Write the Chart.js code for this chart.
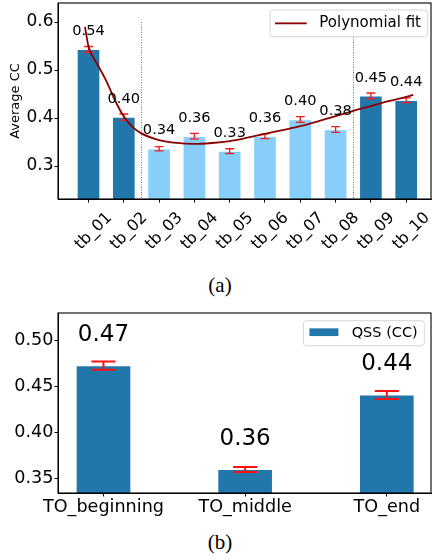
<!DOCTYPE html>
<html><head><meta charset="utf-8">
<script src="https://cdn.jsdelivr.net/npm/chart.js@4.4.1/dist/chart.umd.min.js"></script>
<style>
html,body{margin:0;padding:0;background:#fff;width:432px;height:560px;overflow:hidden;}
#wrap{position:relative;width:432px;height:560px;}
canvas{position:absolute;left:0;}
#c1{top:0;} #c2{top:300px;}
.cap{position:absolute;left:4px;width:432px;text-align:center;font-family:"Liberation Serif","Times New Roman",serif;font-size:21px;line-height:21px;color:#000;}
</style></head>
<body><div id="wrap">
<canvas id="c1" width="432" height="270" style="width:432px;height:270px"></canvas>
<div class="cap" style="top:275px">(a)</div>
<canvas id="c2" width="432" height="230" style="width:432px;height:230px"></canvas>
<div class="cap" style="top:532px">(b)</div>
</div>
<script>
// ---------- data (a) ----------
const categories = ['tb_01','tb_02','tb_03','tb_04','tb_05','tb_06','tb_07','tb_08','tb_09','tb_10'];
const avgCC      = [0.543, 0.402, 0.336, 0.362, 0.331, 0.362, 0.397, 0.376, 0.446, 0.437];
const avgCCErr   = [0.006, 0.0065, 0.0045, 0.006, 0.005, 0.005, 0.006, 0.006, 0.006, 0.005];
const phaseSplits = [1.5, 7.5];
const fitX = [-0.1, 0, 0.25, 0.5, 0.75, 1, 1.25, 1.5, 2, 2.5, 3, 3.5, 4, 4.5, 5, 5.5, 6, 6.5, 7, 7.5, 8, 8.5, 9, 9.2];
const fitY = [0.590, 0.549, 0.512, 0.478, 0.437, 0.403, 0.381, 0.368, 0.354, 0.348, 0.346, 0.348, 0.352, 0.359, 0.367, 0.375, 0.383, 0.393, 0.404, 0.415, 0.425, 0.435, 0.444, 0.448];
const ccTicks = [0.3, 0.4, 0.5, 0.6];

// ---------- data (b) ----------
const toCategories = ['TO_beginning', 'TO_middle', 'TO_end'];
const qssCC    = [0.473, 0.360, 0.441];
const qssErr   = [0.0045, 0.0027, 0.0043];
const qssTicks = [0.35, 0.40, 0.45, 0.50];

// ---------- styling ----------
const FONT = '"DejaVu Sans", "Liberation Sans", sans-serif';
const DARK = '#2277aa';
const LIGHT = '#87cefa';

const errorBars = {
  id: 'errorBars',
  afterDatasetDraw(chart, args, o) {
    const ds = chart.data.datasets[args.index];
    if (!ds.errors) return;
    const ctx = chart.ctx, xs = chart.scales.x, ys = chart.scales.y;
    ctx.save();
    ctx.strokeStyle = o.color; ctx.lineWidth = o.width;
    ds.data.forEach((p, i) => {
      const x = xs.getPixelForValue(p.x);
      const e = ds.errors[i];
      const y1 = ys.getPixelForValue(p.y - e), y2 = ys.getPixelForValue(p.y + e);
      ctx.beginPath();
      ctx.moveTo(x, y1); ctx.lineTo(x, y2);
      ctx.moveTo(x - o.cap, y1); ctx.lineTo(x + o.cap, y1);
      ctx.moveTo(x - o.cap, y2); ctx.lineTo(x + o.cap, y2);
      ctx.stroke();
    });
    ctx.restore();
  }
};

const valueLabels = {
  id: 'valueLabels',
  afterDatasetsDraw(chart, args, o) {
    const ctx = chart.ctx, xs = chart.scales.x, ys = chart.scales.y;
    ctx.save();
    ctx.font = o.size + 'px ' + FONT;
    ctx.fillStyle = '#000'; ctx.textAlign = 'center'; ctx.textBaseline = 'alphabetic';
    chart.data.datasets.forEach(ds => {
      if (!ds.errors) return;
      ds.data.forEach(p => {
        ctx.fillText(p.y.toFixed(2), xs.getPixelForValue(p.x), ys.getPixelForValue(p.y + o.gap));
      });
    });
    ctx.restore();
  }
};

const splitLines = {
  id: 'splitLines',
  beforeDatasetsDraw(chart, args, o) {
    if (!o.at) return;
    const ctx = chart.ctx, xs = chart.scales.x, ys = chart.scales.y, ca = chart.chartArea;
    ctx.save();
    ctx.strokeStyle = o.color; ctx.lineWidth = 1; ctx.setLineDash([1, 1.5]);
    o.at.forEach(v => {
      const x = Math.round(xs.getPixelForValue(v)) + 0.5;
      ctx.beginPath(); ctx.moveTo(x, ys.getPixelForValue(o.top)); ctx.lineTo(x, ca.bottom); ctx.stroke();
    });
    ctx.restore();
  }
};

const frameLegend = {
  id: 'frameLegend',
  afterDraw(chart, args, o) {
    const ctx = chart.ctx, ca = chart.chartArea;
    ctx.save();
    ctx.strokeStyle = '#000'; ctx.lineWidth = 1.1;
    ctx.strokeRect(ca.left, ca.top, ca.right - ca.left, ca.bottom - ca.top);
    const ds = chart.data.datasets[o.datasetIndex];
    ctx.font = o.fontSize + 'px ' + FONT;
    const tw = ctx.measureText(ds.label).width;
    const w = o.padL + o.sampleW + o.gap + tw + o.padR;
    const left = ca.right - o.marginRight - w, top = ca.top + o.marginTop;
    ctx.beginPath();
    ctx.roundRect(left, top, w, o.height, 3);
    ctx.fillStyle = 'rgba(255,255,255,0.85)'; ctx.fill();
    ctx.strokeStyle = '#d6d6d6'; ctx.lineWidth = 1; ctx.stroke();
    const cy = top + o.height / 2;
    if (o.sample === 'line') {
      ctx.strokeStyle = ds.borderColor; ctx.lineWidth = ds.borderWidth;
      ctx.beginPath(); ctx.moveTo(left + o.padL, cy); ctx.lineTo(left + o.padL + o.sampleW, cy); ctx.stroke();
    } else {
      ctx.fillStyle = Array.isArray(ds.backgroundColor) ? ds.backgroundColor[0] : ds.backgroundColor;
      ctx.fillRect(left + o.padL, cy - o.sampleH / 2 - 1, o.sampleW, o.sampleH);
    }
    ctx.fillStyle = '#000'; ctx.textAlign = 'left'; ctx.textBaseline = 'middle';
    ctx.fillText(ds.label, left + o.padL + o.sampleW + o.gap, cy);
    ctx.restore();
  }
};

function axisBase(extra) {
  return Object.assign({
    offset: false,
    grid: { display: true, offset: false, drawOnChartArea: false, drawTicks: true, tickLength: 3.5, tickColor: '#000', tickWidth: 1 },
    border: { display: true, color: '#000', width: 1 }
  }, extra);
}

// ---------- chart (a) ----------
new Chart(document.getElementById('c1'), {
  type: 'bar',
  data: {
    datasets: [
      {
        type: 'line', label: 'Polynomial fit', order: 1,
        data: fitX.map((x, i) => ({ x, y: fitY[i] })),
        borderColor: '#8b0000', borderWidth: 1.8, pointRadius: 0, fill: false,
        cubicInterpolationMode: 'monotone'
      },
      {
        type: 'bar', label: 'Average CC', order: 2,
        data: avgCC.map((y, i) => ({ x: i, y })),
        errors: avgCCErr,
        backgroundColor: avgCC.map((_, i) => (i > phaseSplits[0] && i < phaseSplits[1]) ? LIGHT : DARK),
        borderColor: 'rgba(255,255,255,0.35)', borderWidth: 1,
        barThickness: 23
      }
    ]
  },
  options: {
    responsive: false, animation: false, devicePixelRatio: 1, events: [],
    layout: { padding: { top: 3, right: 1, left: 0, bottom: 0 } },
    plugins: {
      legend: { display: false }, tooltip: { enabled: false },
      errorBars: { color: '#ee2222', width: 1.4, cap: 4.5 },
      valueLabels: { size: 14.6, gap: 0.030 },
      splitLines: { at: phaseSplits, top: 0.6, color: '#ff3b3b' },
      frameLegend: { datasetIndex: 0, fontSize: 15, padL: 5, sampleW: 31.7, gap: 12.6, padR: 6.7, height: 26.7, marginRight: 3.3, marginTop: 7, sample: 'line' }
    },
    scales: {
      x: axisBase({
        type: 'linear', min: -0.864, max: 9.703,
        afterBuildTicks: s => { s.ticks = categories.map((c, i) => ({ value: i })); },
        afterFit: s => { s.height = 71; s.paddingLeft = 0; s.paddingRight = 0; },
        ticks: {
          autoSkip: false, minRotation: 45, maxRotation: 45, labelOffset: 21, padding: 6,
          color: '#000', font: { size: 16, family: FONT },
          callback: v => categories[v]
        }
      }),
      y: axisBase({
        min: 0.2313, max: 0.6396,
        afterBuildTicks: s => { s.ticks = ccTicks.map(v => ({ value: v })); },
        afterFit: s => { s.width = 58; s.paddingTop = 0; s.paddingBottom = 0; },
        ticks: { padding: 1, color: '#000', font: { size: 17, family: FONT }, callback: v => v.toFixed(1) },
        title: { display: true, text: 'Average CC', color: '#000', font: { size: 13, family: FONT }, padding: { top: 8, bottom: 0 } }
      })
    }
  },
  plugins: [splitLines, errorBars, valueLabels, frameLegend]
});

// ---------- chart (b) ----------
new Chart(document.getElementById('c2'), {
  type: 'bar',
  data: {
    datasets: [
      {
        type: 'bar', label: 'QSS (CC)',
        data: qssCC.map((y, i) => ({ x: i, y })),
        errors: qssErr,
        backgroundColor: DARK,
        borderColor: 'rgba(255,255,255,0.35)', borderWidth: 1,
        barThickness: 55
      }
    ]
  },
  options: {
    responsive: false, animation: false, devicePixelRatio: 1, events: [],
    layout: { padding: { top: 13, right: 1, left: 0, bottom: 0 } },
    plugins: {
      legend: { display: false }, tooltip: { enabled: false },
      errorBars: { color: '#ff1111', width: 2, cap: 12 },
      valueLabels: { size: 23, gap: 0.027 },
      splitLines: { at: null },
      frameLegend: { datasetIndex: 0, fontSize: 14.5, padL: 6, sampleW: 29, sampleH: 7.7, gap: 13.3, padR: 6.6, height: 25, marginRight: 6.7, marginTop: 7.7, sample: 'box' }
    },
    scales: {
      x: axisBase({
        type: 'linear', min: -0.321, max: 2.312,
        afterBuildTicks: s => { s.ticks = toCategories.map((c, i) => ({ value: i })); },
        afterFit: s => { s.height = 37; s.paddingLeft = 0; s.paddingRight = 0; },
        ticks: {
          autoSkip: false, minRotation: 0, maxRotation: 0, padding: 0,
          color: '#000', font: { size: 17.6, family: FONT },
          callback: v => toCategories[v]
        }
      }),
      y: axisBase({
        min: 0.3344, max: 0.5301,
        afterBuildTicks: s => { s.ticks = qssTicks.map(v => ({ value: v })); },
        afterFit: s => { s.width = 58; s.paddingTop = 0; s.paddingBottom = 0; },
        ticks: { padding: 1, color: '#000', font: { size: 17.6, family: FONT }, callback: v => v.toFixed(2) }
      })
    }
  },
  plugins: [splitLines, errorBars, valueLabels, frameLegend]
});
</script>
</body></html>
